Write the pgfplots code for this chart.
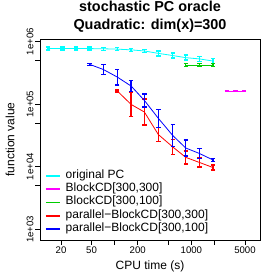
\documentclass[border=0pt]{standalone}
\usepackage{fontspec}
\setmainfont{Liberation Sans}
\usepackage{pgfplots}
\pgfplotsset{compat=1.18}
\definecolor{rgreen}{RGB}{0,205,0}
\definecolor{rcyan}{RGB}{0,255,255}
\definecolor{rmag}{RGB}{255,0,255}
\definecolor{rred}{RGB}{255,0,0}
\definecolor{rblue}{RGB}{0,0,255}
\begin{document}
\begin{tikzpicture}
\useasboundingbox (0,0) rectangle (280pt,280pt);
\begin{axis}[
  at={(40pt,40pt)}, anchor=south west,
  scale only axis, width=220pt, height=200.7pt,
  xmode=log, ymode=log,
  xmin=10.64, xmax=7850, ymin=672, ymax=1.092e6,
  axis line style={line width=0.8pt},
  xtick={20,50,100,200,500,1000,2000,5000},
  xticklabels={20,50,,200,,1000,,5000},
  ytick={1e3,5e3,1e4,5e4,1e5,5e5,1e6},
  yticklabels={1e+03,,1e+04,,1e+05,,1e+06},
  xminorticks=false, yminorticks=false,
  tick align=outside, tick pos=left,
  major tick length=5pt,
  tick style={line width=0.6pt, black},
  /pgf/number format/assume math mode=true,
  xticklabel style={font=\fontsize{9.6}{11.5}\selectfont, anchor=center, yshift=-5pt},
  yticklabel style={font=\fontsize{9.6}{11.5}\selectfont, rotate=90, anchor=center, yshift=5pt},
  title={stochastic PC oracle\\Quadratic: dim(x)=300},
  title style={at={(axis description cs:0.5,1)}, anchor=south, yshift=1pt, inner sep=0pt, align=center, font=\bfseries\fontsize{14.4}{17.3}\selectfont},
  xlabel={CPU time (s)},
  xlabel style={at={(axis description cs:0.5,0)}, anchor=center, yshift=-26.7pt, font=\fontsize{12}{14}\selectfont},
  ylabel={function value},
  ylabel style={at={(axis description cs:0,0.5)}, anchor=center, rotate=0, yshift=30pt, font=\fontsize{12}{14}\selectfont},
  legend image code/.code={\draw[#1, line width=1.5pt] (0pt,0pt) -- (14pt,0pt);},
  legend cell align=left,
  legend style={draw=none, fill=none, inner sep=0pt, at={(axis description cs:0,0)}, anchor=south west, xshift=5pt, yshift=4pt, row sep=0pt, column sep=5pt, font=\fontsize{12}{14}\selectfont, nodes={inner sep=0pt, text height=9pt, text depth=4.3pt}},
  error bars/y dir=both, error bars/y explicit,
]
\addlegendimage{rcyan}
\addlegendentry{original PC}
\addlegendimage{rmag}
\addlegendentry{BlockCD[300,300]}
\addlegendimage{rgreen}
\addlegendentry{BlockCD[300,100]}
\addlegendimage{rred}
\addlegendentry{parallel−BlockCD[300,300]}
\addlegendimage{rblue}
\addlegendentry{parallel−BlockCD[300,100]}

% original PC
\addplot[rcyan, line width=0.8pt, mark=none, forget plot,
  error bars/error bar style={line width=1.4pt, rcyan},
  error bars/error mark options={rotate=90, line width=1.4pt, mark size=2.2pt, rcyan}]
  table[x=x, y=y, y error plus=ep, y error minus=em] {
x y ep em
13.6 7.8e5 46000 44000
20.8 7.8e5 46000 44000
31.4 7.8e5 46000 44000
46.8 7.75e5 46000 43000
71.2 7.7e5 45700 43100
108 7.6e5 45000 42600
164 7.4e5 43900 41400
244 7.1e5 42100 39800
371 6.5e5 62700 57200
572 6.0e5 57900 52800
845 5.55e5 53600 48800
1271 5.3e5 51100 46600
1917 4.9e5 47300 43100
};
% BlockCD[300,300]
\addplot[rmag, line width=0.8pt, mark=none, forget plot,
  error bars/error bar style={line width=1.4pt, rmag},
  error bars/error mark options={rotate=90, line width=1.4pt, mark size=2.2pt, rmag}]
  table[x=x, y=y, y error plus=ep, y error minus=em] {
x y ep em
2900 1.63e5 4000 3800
3750 1.63e5 4000 3800
4850 1.63e5 4000 3800
};
% BlockCD[300,100]
\addplot[rgreen, line width=0.8pt, mark=none, forget plot,
  error bars/error bar style={line width=1.4pt, rgreen},
  error bars/error mark options={rotate=90, line width=1.4pt, mark size=2.2pt, rgreen}]
  table[x=x, y=y, y error plus=ep, y error minus=em] {
x y ep em
845 4.25e5 25000 23800
1271 4.25e5 25000 23800
1917 4.25e5 25000 23800
};
% parallel-BlockCD[300,300]
\addplot[rred, line width=0.8pt, mark=none, forget plot,
  error bars/error bar style={line width=1.4pt, rred},
  error bars/error mark options={rotate=90, line width=1.4pt, mark size=2.2pt, rred}]
  table[x=x, y=y, y error plus=ep, y error minus=em] {
x y ep em
108 1.63e5 6100 5900
164 9.9e4 55000 35400
244 7.5e4 46100 28500
371 3.27e4 9600 7430
572 2.07e4 6590 5000
845 1.41e4 3810 3000
1271 1.17e4 2110 1790
1917 9.7e3 940 850
};
% parallel-BlockCD[300,100]
\addplot[rblue, line width=0.8pt, mark=none, forget plot,
  error bars/error bar style={line width=1.4pt, rblue},
  error bars/error mark options={rotate=90, line width=1.4pt, mark size=2.2pt, rblue}]
  table[x=x, y=y, y error plus=ep, y error minus=em] {
x y ep em
46.8 4.35e5 16300 15700
71.2 3.59e5 72600 60400
108 2.72e5 90700 68000
164 1.95e5 43800 35800
244 1.15e5 31100 24500
371 5.95e4 23400 16800
572 3.15e4 15700 10500
845 1.99e4 6800 5080
1271 1.63e4 3300 2740
1917 1.28e4 820 770
};
\end{axis}
\end{tikzpicture}
\end{document}
